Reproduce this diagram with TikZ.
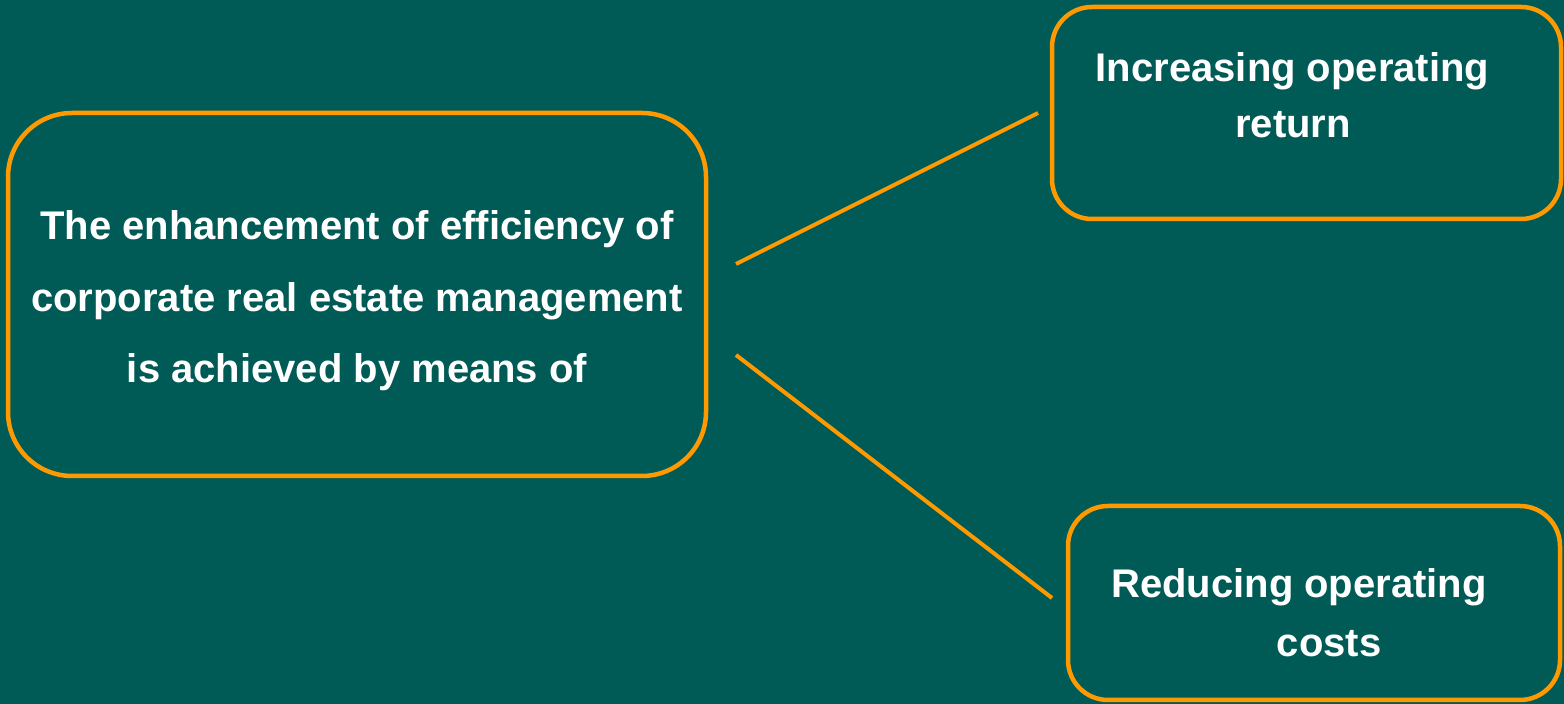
\documentclass[tikz,border=0pt]{standalone}
\usepackage{fontspec}
\setmainfont{Liberation Sans}
\definecolor{bg}{HTML}{005A55}
\definecolor{org}{HTML}{FF9900}
\begin{document}
\begin{tikzpicture}[x=0.5pt,y=-0.5pt,
  box/.style={draw=org,line width=2.25pt,inner sep=0pt,rounded corners=#1},
  lbl/.style={text=white,font=\fontsize{20}{24}\selectfont\bfseries,anchor=base,inner sep=0pt},
  link/.style={draw=org,line width=2pt}]
\fill[bg] (0,0) rectangle (1564,704);
\useasboundingbox (0,0) rectangle (1564,704);
\node[box=32pt,minimum width=349pt,minimum height=181.5pt] (main) at (357,294.5) {};
\node[box=20pt,minimum width=254.5pt,minimum height=106pt] (inc) at (1306.5,113) {};
\node[box=20pt,minimum width=246pt,minimum height=97pt] (red) at (1314,603) {};
\node[lbl] (m1) at (357,240) {The enhancement of efficiency of};
\node[lbl] (m2) at (357,312) {corporate real estate management};
\node[lbl] (m3) at (357,383) {is achieved by means of};
\node[lbl] (i1) at (1292.5,82) {Increasing operating};
\node[lbl] (i2) at (1293,138) {return};
\node[lbl] (r1) at (1299,598) {Reducing operating};
\node[lbl] (r2) at (1329,657) {costs};
\coordinate (a1) at (736,264);
\coordinate (a2) at (1038,113);
\coordinate (b1) at (736,355);
\coordinate (b2) at (1052,598);
\draw[link] (a1) -- (a2);
\draw[link] (b1) -- (b2);
\end{tikzpicture}
\end{document}
